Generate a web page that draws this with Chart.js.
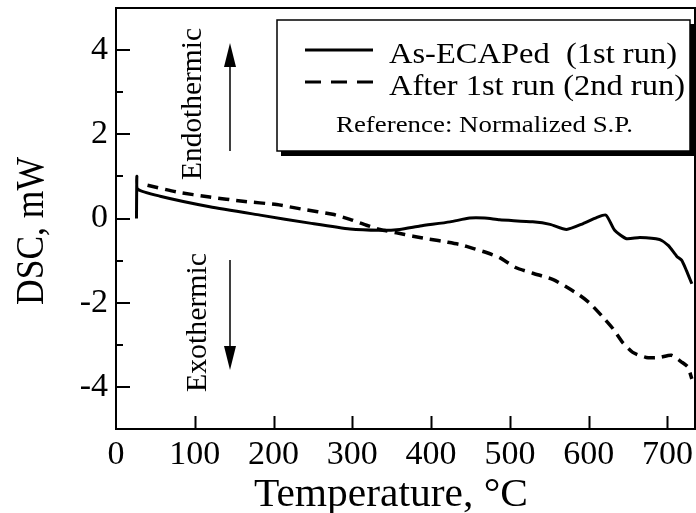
<!DOCTYPE html>
<html>
<head>
<meta charset="utf-8">
<script src="https://cdn.jsdelivr.net/npm/chart.js@4/dist/chart.umd.min.js"></script>
<style>
html,body{margin:0;padding:0;background:#fff;}
#wrap{width:696px;height:513px;position:relative;}
</style>
</head>
<body>
<div id="wrap"><canvas id="c" width="696" height="513"></canvas></div>
<script>
// Data
const run1Temp = [26, 26.5, 27.5, 56, 119, 183, 246, 297, 335, 360, 386, 424, 449, 468, 487, 529, 551, 572, 593, 610, 622, 633, 648, 665, 690, 701, 712, 718, 724, 731];
const run1DSC  = [0, 1.0, 0.70, 0.53, 0.28, 0.08, -0.11, -0.25, -0.28, -0.26, -0.18, -0.08, 0.01, 0.01, -0.03, -0.08, -0.14, -0.26, -0.12, 0.02, 0.08, -0.28, -0.48, -0.45, -0.5, -0.64, -0.9, -0.99, -1.23, -1.55];
const run2Temp = [40, 77, 119, 161, 204, 237, 275, 297, 318, 335, 356, 377, 398, 420, 437, 453, 472, 487, 508, 529, 555, 572, 589, 602, 618, 631, 643, 656, 673, 690, 705, 718, 726, 731];
const run2DSC  = [0.79, 0.63, 0.51, 0.41, 0.33, 0.22, 0.10, -0.02, -0.16, -0.26, -0.34, -0.42, -0.49, -0.56, -0.62, -0.71, -0.82, -0.93, -1.17, -1.3, -1.45, -1.63, -1.83, -2.02, -2.34, -2.62, -2.94, -3.18, -3.3, -3.3, -3.25, -3.41, -3.53, -3.81];
const seriesNames = ['As-ECAPed  (1st run)', 'After 1st run (2nd run)'];
const xTicks = [0, 100, 200, 300, 400, 500, 600, 700];
const yLabelTicks = [-4, -2, 0, 2, 4];
const yMinorTicks = [-3, -1, 1, 3];
const xTitle = 'Temperature, °C';
const yTitle = 'DSC, mW';
const refNote = 'Reference: Normalized S.P.';
const upLabel = 'Endothermic';
const downLabel = 'Exothermic';

const SERIF = '"Liberation Serif", "Times New Roman", serif';

function fitText(ctx, text, x, y, font, width, rot) {
  ctx.save();
  ctx.font = font;
  ctx.textAlign = 'left';
  ctx.textBaseline = 'alphabetic';
  ctx.translate(x, y);
  if (rot) ctx.rotate(rot);
  const w = ctx.measureText(text).width;
  if (width) ctx.scale(width / w, 1);
  ctx.fillStyle = '#000';
  ctx.fillText(text, 0, 0);
  ctx.restore();
}

const decor = {
  id: 'decor',
  afterDraw(chart) {
    const ctx = chart.ctx;
    const a = chart.chartArea;
    const xs = chart.scales.x, ys = chart.scales.y;
    ctx.save();
    ctx.strokeStyle = '#000';
    // frame
    ctx.lineWidth = 2;
    ctx.strokeRect(a.left, a.top, a.right - a.left, a.bottom - a.top);
    // inward ticks
    ctx.lineWidth = 2;
    ctx.beginPath();
    xTicks.forEach(v => {
      if (v === 0) return;
      const px = Math.round(xs.getPixelForValue(v)) + 0.5;
      ctx.moveTo(px, a.bottom); ctx.lineTo(px, a.bottom - 13);
    });
    yLabelTicks.forEach(v => {
      const py = Math.round(ys.getPixelForValue(v));
      ctx.moveTo(a.left, py); ctx.lineTo(a.left + 14, py);
    });
    yMinorTicks.forEach(v => {
      const py = Math.round(ys.getPixelForValue(v));
      ctx.moveTo(a.left, py); ctx.lineTo(a.left + 7, py);
    });
    ctx.stroke();

    // axis titles
    fitText(ctx, yTitle, 43, 305, '40px ' + SERIF, 148, -Math.PI / 2);
    fitText(ctx, xTitle, 254, 506, '40px ' + SERIF, 274, 0);

    // Endothermic / Exothermic
    fitText(ctx, upLabel, 201, 180, '30px ' + SERIF, 152, -Math.PI / 2);
    fitText(ctx, downLabel, 206, 392, '30px ' + SERIF, 139, -Math.PI / 2);
    // arrows
    ctx.lineWidth = 1.5;
    ctx.beginPath();
    ctx.moveTo(230, 151); ctx.lineTo(230, 62);
    ctx.moveTo(230, 260); ctx.lineTo(230, 350);
    ctx.stroke();
    ctx.fillStyle = '#000';
    ctx.beginPath();
    ctx.moveTo(230, 43); ctx.lineTo(236, 67); ctx.lineTo(224, 67); ctx.closePath();
    ctx.moveTo(230, 370); ctx.lineTo(236, 346); ctx.lineTo(224, 346); ctx.closePath();
    ctx.fill();

    // legend box with shadow
    const bx = 277, by = 20, bw = 413, bh = 131;
    ctx.fillStyle = '#000';
    ctx.fillRect(bx + 4, by + 4, bw + 1, bh + 1);
    ctx.fillStyle = '#fff';
    ctx.fillRect(bx, by, bw, bh);
    ctx.lineWidth = 1.5;
    ctx.strokeStyle = '#000';
    ctx.strokeRect(bx, by, bw, bh);
    // sample lines
    ctx.lineWidth = 3;
    ctx.beginPath();
    ctx.moveTo(305, 50); ctx.lineTo(373, 50);
    ctx.stroke();
    ctx.setLineDash([16, 10]);
    ctx.beginPath();
    ctx.moveTo(305, 82); ctx.lineTo(373, 82);
    ctx.stroke();
    ctx.setLineDash([]);
    fitText(ctx, seriesNames[0], 389, 63, '30px ' + SERIF, 288, 0);
    fitText(ctx, seriesNames[1], 389, 95, '30px ' + SERIF, 296, 0);
    fitText(ctx, refNote, 336, 132, '23px ' + SERIF, 297, 0);
    ctx.restore();
  }
};

const toPts = (xsArr, ysArr) => xsArr.map((t, i) => ({ x: t, y: ysArr[i] }));

new Chart(document.getElementById('c'), {
  type: 'scatter',
  data: {
    datasets: [
      { label: seriesNames[0], data: toPts(run1Temp, run1DSC), showLine: true, borderColor: '#000', borderWidth: 3, pointRadius: 0, tension: 0.2, fill: false },
      { label: seriesNames[1], data: toPts(run2Temp, run2DSC), showLine: true, borderColor: '#000', borderWidth: 3.5, borderDash: [11, 7], pointRadius: 0, tension: 0.2, fill: false }
    ]
  },
  options: {
    responsive: false,
    animation: false,
    devicePixelRatio: 1,
    layout: { padding: { top: 8, right: 1, left: 0, bottom: 0 } },
    plugins: { legend: { display: false }, tooltip: { enabled: false } },
    scales: {
      x: {
        type: 'linear', min: 0, max: 735,
        afterFit(s) { s.height = 84; s.paddingLeft = 0; s.paddingRight = 0; },
        grid: { display: false, drawTicks: false },
        border: { display: true, color: '#000', width: 2 },
        ticks: { stepSize: 100, includeBounds: false, autoSkip: false, padding: 6, color: '#000', maxRotation: 0,
          font: { family: SERIF, size: 34 },
          callback: v => xTicks.includes(v) ? String(v) : '' }
      },
      y: {
        type: 'linear', min: -5, max: 5,
        afterFit(s) { s.width = 116; s.paddingTop = 0; s.paddingBottom = 0; },
        grid: { display: false, drawTicks: false },
        border: { display: true, color: '#000', width: 2 },
        ticks: { stepSize: 1, autoSkip: false, padding: 8, color: '#000',
          font: { family: SERIF, size: 34 },
          callback: v => yLabelTicks.includes(v) ? String(v) : '' }
      }
    }
  },
  plugins: [decor]
});
</script>
</body>
</html>
